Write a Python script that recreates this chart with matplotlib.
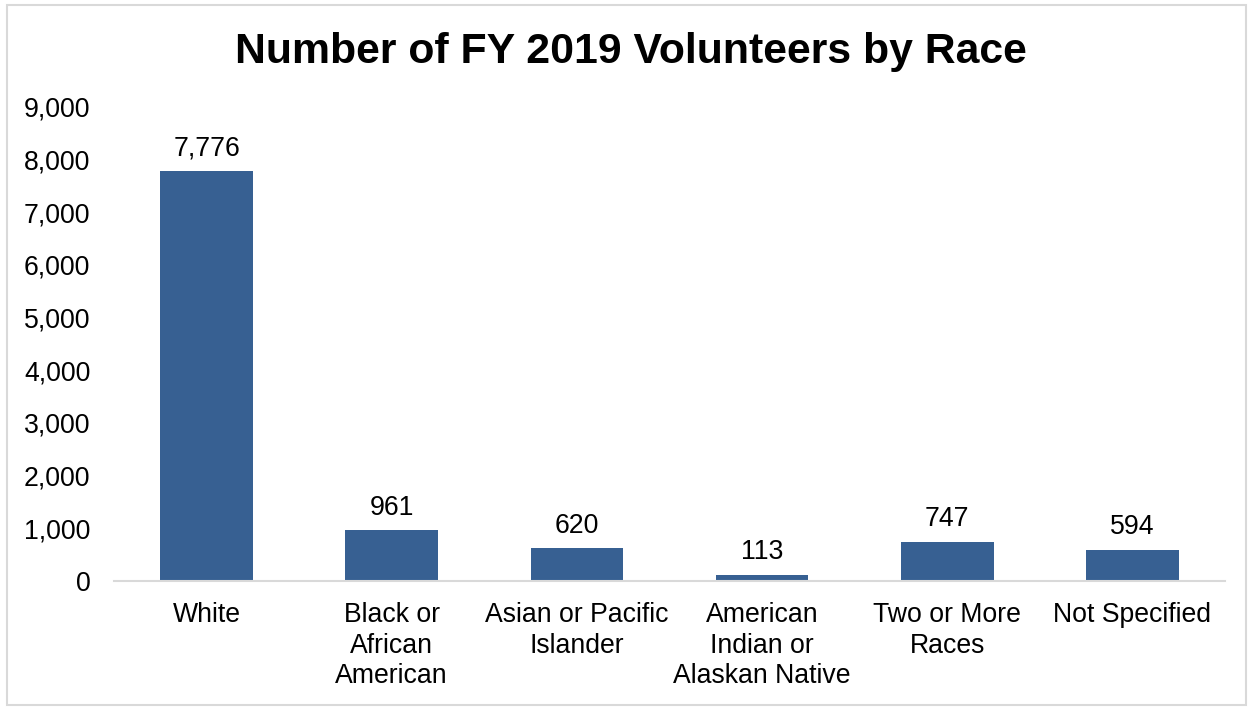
import matplotlib
matplotlib.use("Agg")
import matplotlib.pyplot as plt
from matplotlib.patches import Rectangle
from matplotlib.ticker import FuncFormatter

categories = ["White", "Black or\nAfrican\nAmerican", "Asian or Pacific\nIslander",
              "American\nIndian or\nAlaskan Native", "Two or More\nRaces", "Not Specified"]
volunteers = [7776, 961, 620, 113, 747, 594]
y_ticks = [0, 1000, 2000, 3000, 4000, 5000, 6000, 7000, 8000, 9000]

plt.rcParams['font.family'] = ['Liberation Sans', 'DejaVu Sans']

fig = plt.figure(figsize=(12.53, 7.07), dpi=100)
fig.patches.append(Rectangle((7 / 1253, 2 / 707), 1239 / 1253, 700 / 707,
                             transform=fig.transFigure, fill=False,
                             edgecolor="#d9d9d9", linewidth=1.5))

ax = fig.add_axes([114 / 1253, 126 / 707, 1111 / 1253, 474 / 707])
x = list(range(len(categories)))
bars = ax.bar(x, volunteers, width=0.5, color="#376092")

for xi, v in zip(x, volunteers):
    ax.annotate(f"{v:,}", (xi, v), xytext=(0, 7), textcoords="offset points",
                ha="center", va="bottom", fontsize=19.2, color="black")

ax.set_xlim(-0.5, len(categories) - 0.5)
ax.set_ylim(0, 9000)
ax.set_yticks(y_ticks)
ax.yaxis.set_major_formatter(FuncFormatter(lambda v, p: f"{int(v):,}"))
ax.set_xticks(x)
ax.set_xticklabels(categories, fontsize=19.2, linespacing=1.24)
ax.tick_params(axis="y", labelsize=19.2, length=0, pad=17)
ax.tick_params(axis="x", length=0, pad=15)
for side in ["top", "right", "left"]:
    ax.spines[side].set_visible(False)
ax.spines["bottom"].set_color("#d9d9d9")
ax.spines["bottom"].set_linewidth(1.5)

fig.text(631 / 1253, 1 - 52 / 707, "Number of FY 2019 Volunteers by Race",
         ha="center", va="center", fontsize=30.8, fontweight="bold")

fig.savefig("out.png", dpi=100)
